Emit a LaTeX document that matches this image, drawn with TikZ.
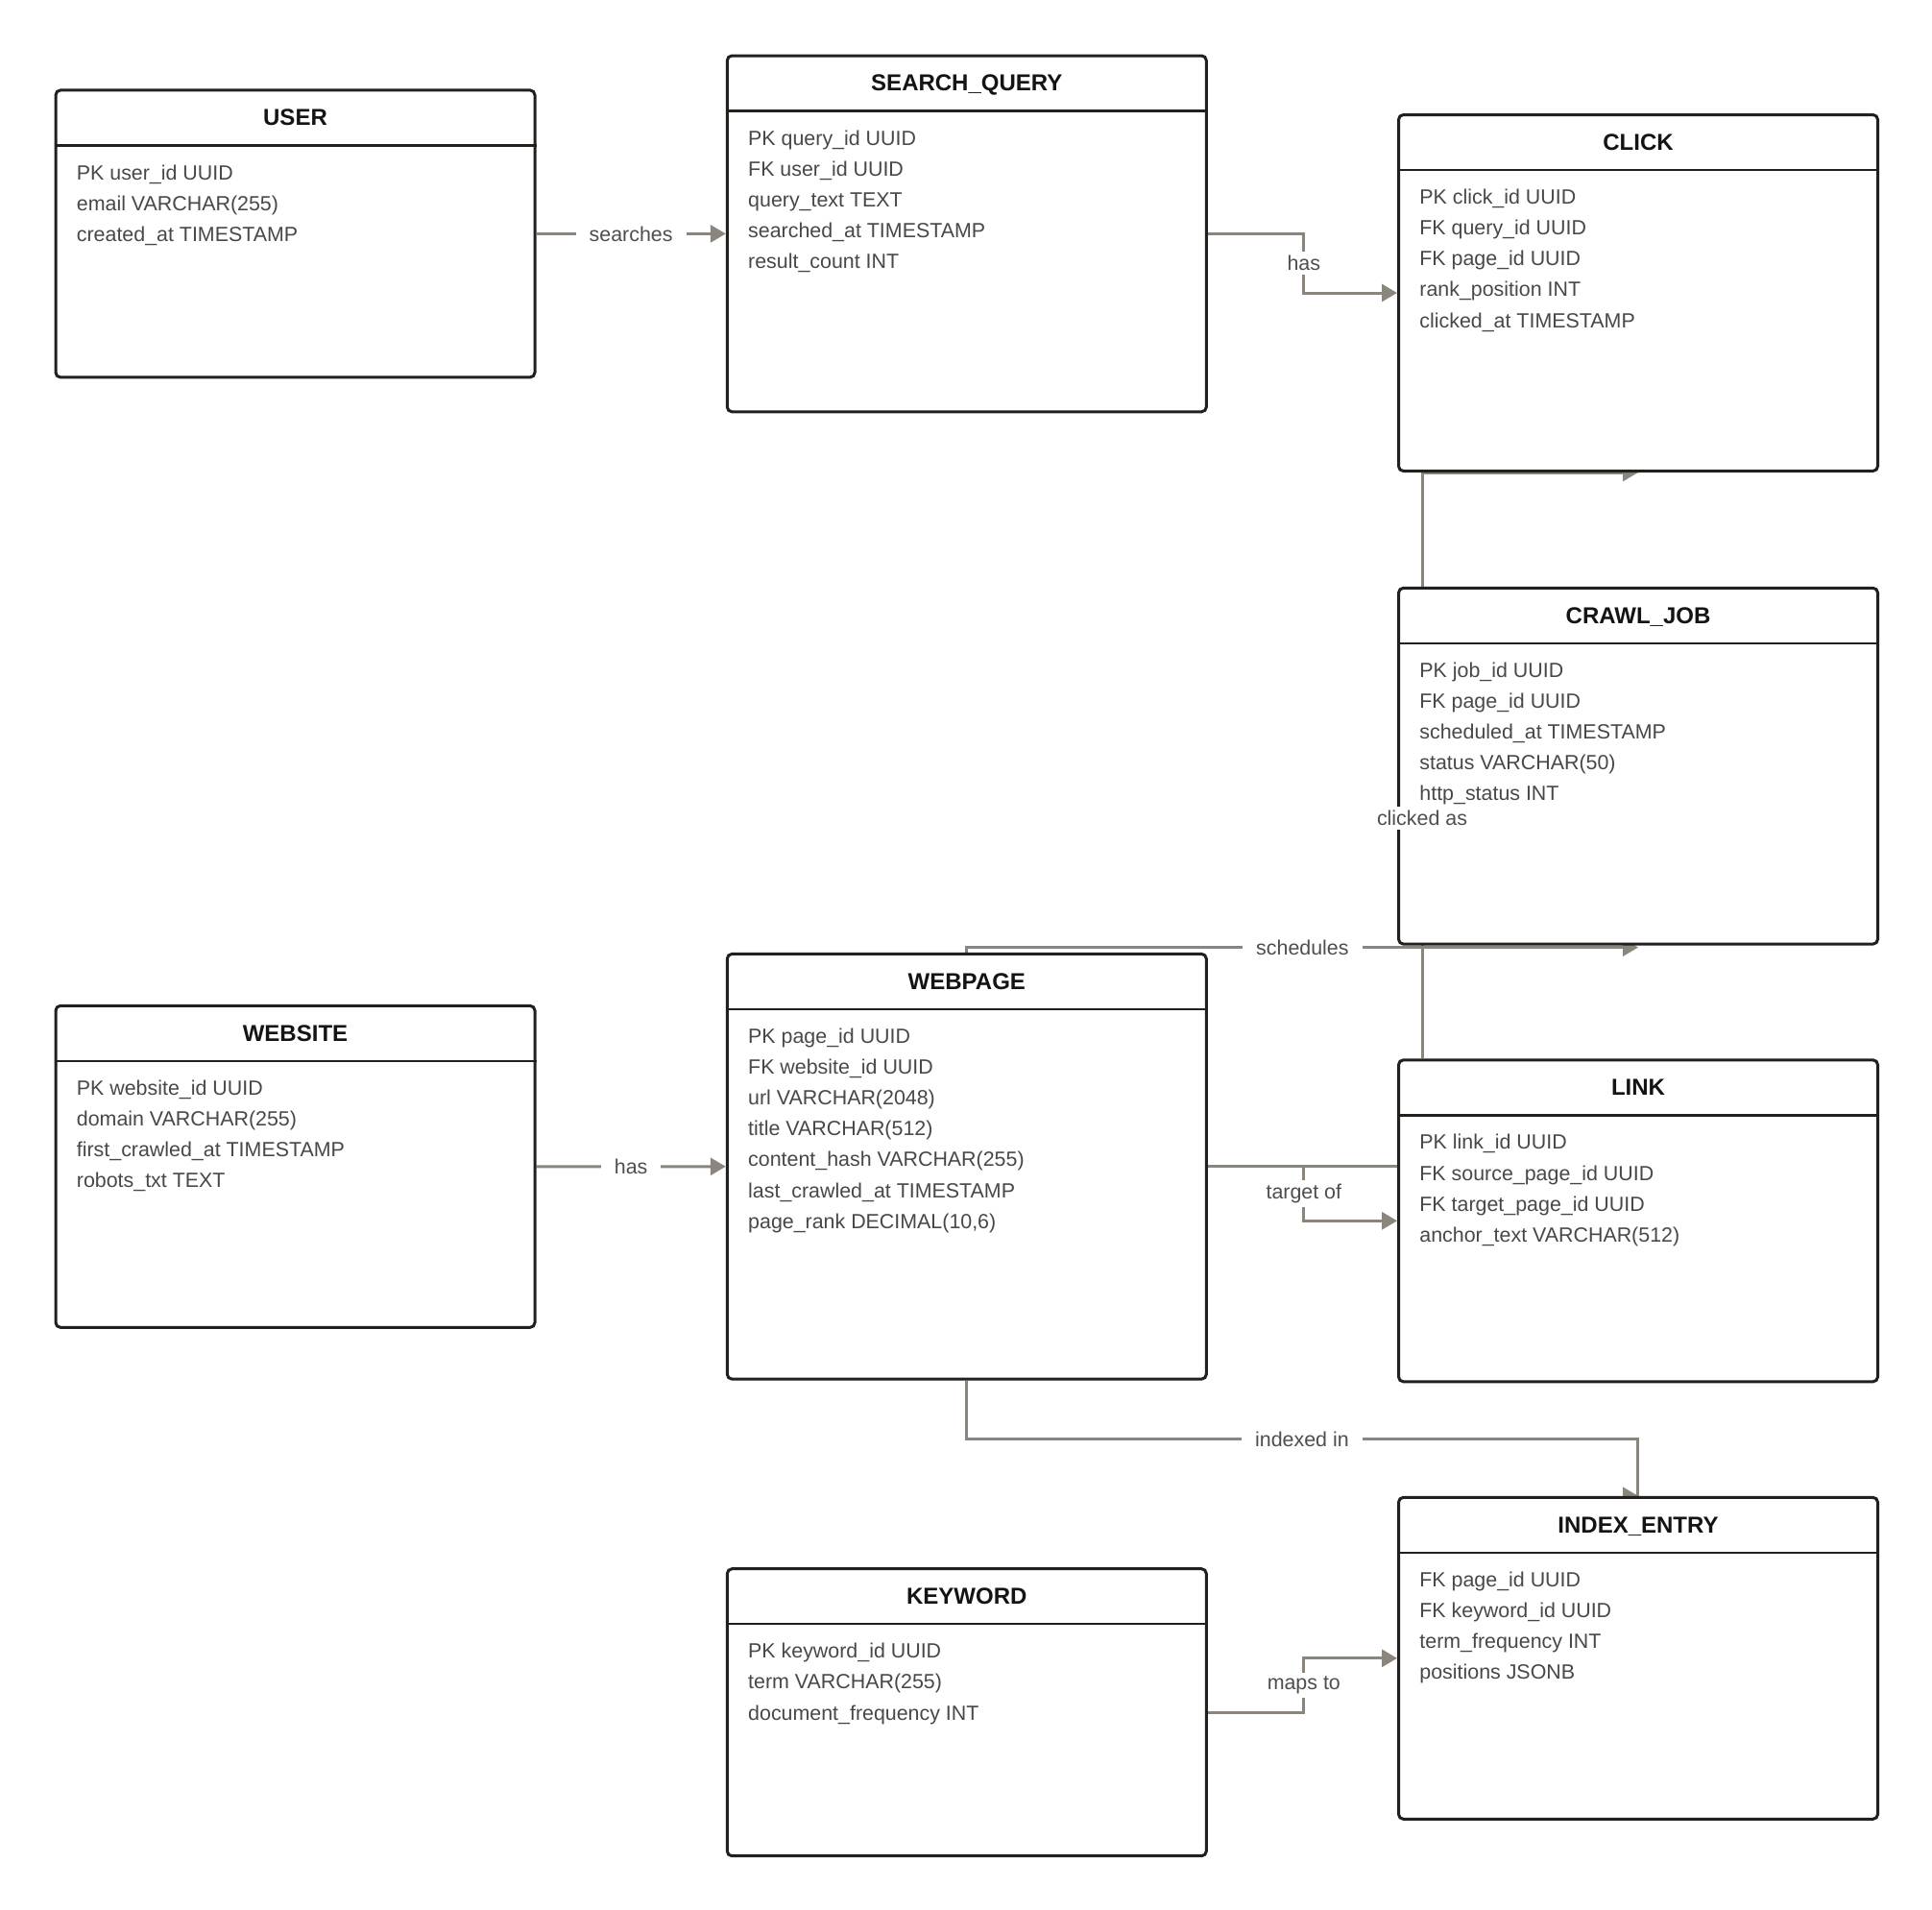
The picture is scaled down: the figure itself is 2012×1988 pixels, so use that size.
\documentclass[tikz,border=0pt]{standalone}
\usepackage{fontspec}
\setmainfont{Liberation Sans}
\usetikzlibrary{arrows.meta}
\pgfdeclarelayer{bg}
\pgfsetlayers{bg,main}
\definecolor{boxline}{RGB}{34,31,29}
\definecolor{relline}{RGB}{138,134,126}
\definecolor{fieldtxt}{RGB}{72,72,72}
\definecolor{labtxt}{RGB}{78,78,78}

% one table: name, x, y, height, title, fields
\newcommand{\erbox}[6]{%
	\node[ent, minimum height=#4*0.5pt] (#1) at (#2,#3) {};
	\draw[hdline] ([yshift=-29.5pt]#1.north west) -- ([yshift=-29.5pt]#1.north east);
	\node[ttl] (#1-t) at ([yshift=-19.2pt]#1.north) {#5};
	\foreach \f [count=\i] in {#6}
		\node[fld] (#1-\i) at ([xshift=11.5pt, yshift={-47.3pt-16.05pt*(\i-1)}]#1.north west) {\f};
}

\begin{document}
\begin{tikzpicture}[x=0.5pt,y=-0.5pt,
	ent/.style={draw=boxline,line width=1.5pt,fill=white,rounded corners=2.5pt,anchor=north west,minimum width=249.5pt,inner sep=0pt},
	hdline/.style={draw=boxline,line width=1.2pt},
	ttl/.style={anchor=base,inner sep=0pt,text=black!92,font=\fontsize{12}{14}\selectfont\bfseries},
	fld/.style={anchor=base west,inner sep=0pt,text=fieldtxt,font=\fontsize{10.7}{13}\selectfont},
	lbl/.style={fill=white,text=labtxt,inner xsep=7pt,inner ysep=2pt,font=\fontsize{10.7}{13}\selectfont},
	rel/.style={draw=relline,line width=1.5pt,-{Triangle[length=8pt,width=9pt]}},
	bare/.style={draw=relline,line width=1.5pt}]
\useasboundingbox (0,0) rectangle (2012,1988);

\erbox{user}{56.5}{92.4}{299}{USER}{PK user\_id UUID, email VARCHAR(255), created\_at TIMESTAMP}
\erbox{query}{755.8}{56.5}{370.8}{SEARCH\_QUERY}{PK query\_id UUID, FK user\_id UUID, query\_text TEXT, searched\_at TIMESTAMP, result\_count INT}
\erbox{click}{1455}{118}{371}{CLICK}{PK click\_id UUID, FK query\_id UUID, FK page\_id UUID, rank\_position INT, clicked\_at TIMESTAMP}
\erbox{crawl}{1455}{610.8}{370.8}{CRAWL\_JOB}{PK job\_id UUID, FK page\_id UUID, scheduled\_at TIMESTAMP, {status VARCHAR(50)}, http\_status INT}
\erbox{website}{56.5}{1045.8}{335}{WEBSITE}{PK website\_id UUID, domain VARCHAR(255), first\_crawled\_at TIMESTAMP, robots\_txt TEXT}
\erbox{webpage}{755.8}{991.9}{442.7}{WEBPAGE}{PK page\_id UUID, FK website\_id UUID, url VARCHAR(2048), title VARCHAR(512), content\_hash VARCHAR(255), last\_crawled\_at TIMESTAMP, {page\_rank DECIMAL(10,6)}}
\erbox{link}{1455}{1102.3}{335}{LINK}{PK link\_id UUID, FK source\_page\_id UUID, FK target\_page\_id UUID, anchor\_text VARCHAR(512)}
\erbox{index}{1455}{1557.8}{335}{INDEX\_ENTRY}{FK page\_id UUID, FK keyword\_id UUID, term\_frequency INT, positions JSONB}
\erbox{keyword}{755.8}{1632.2}{299}{KEYWORD}{PK keyword\_id UUID, term VARCHAR(255), document\_frequency INT}

% relations, behind the tables
\begin{pgfonlayer}{bg}
\draw[rel] (user.east) -- coordinate (c-searches) (query.west);
\draw[rel] (query.east) -- ++(100,0) |- coordinate[pos=0.25] (c-has) (click.west);
\draw[rel] ([xshift=13pt]link.north west) |- coordinate[pos=0.205] (c-clicked) (click.south);
\draw[rel] (webpage.north) |- coordinate[pos=0.75] (c-sched) ([yshift=-1pt]crawl.south);
\draw[rel] (website.east) -- coordinate (c-has2) (webpage.west);
\draw[bare] (webpage.east) -- (webpage.east -| link.west);
\draw[rel] (webpage.east) -- ++(100,0) |- coordinate[pos=0.25] (c-target) (link.west);
\draw[rel] (webpage.south) -- ++(0,61) -| coordinate[pos=0.25] (c-indexed) ([xshift=-0.5pt]index.north) -- (index.north);
\draw[rel] (keyword.east) -- ++(100,0) |- coordinate[pos=0.25] (c-maps) (index.west);
\end{pgfonlayer}

\node[lbl] (l-searches) at (c-searches) {searches};
\node[lbl,inner xsep=1pt] (l-has) at (c-has) {has};
\node[lbl,inner xsep=1pt] (l-clicked) at (c-clicked) {clicked as};
\node[lbl] (l-sched) at (c-sched) {schedules};
\node[lbl] (l-has2) at (c-has2) {has};
\node[lbl,inner xsep=1pt] (l-target) at (c-target) {target of};
\node[lbl] (l-indexed) at (c-indexed) {indexed in};
\node[lbl,inner xsep=1pt] (l-maps) at (c-maps) {maps to};
\end{tikzpicture}
\end{document}
